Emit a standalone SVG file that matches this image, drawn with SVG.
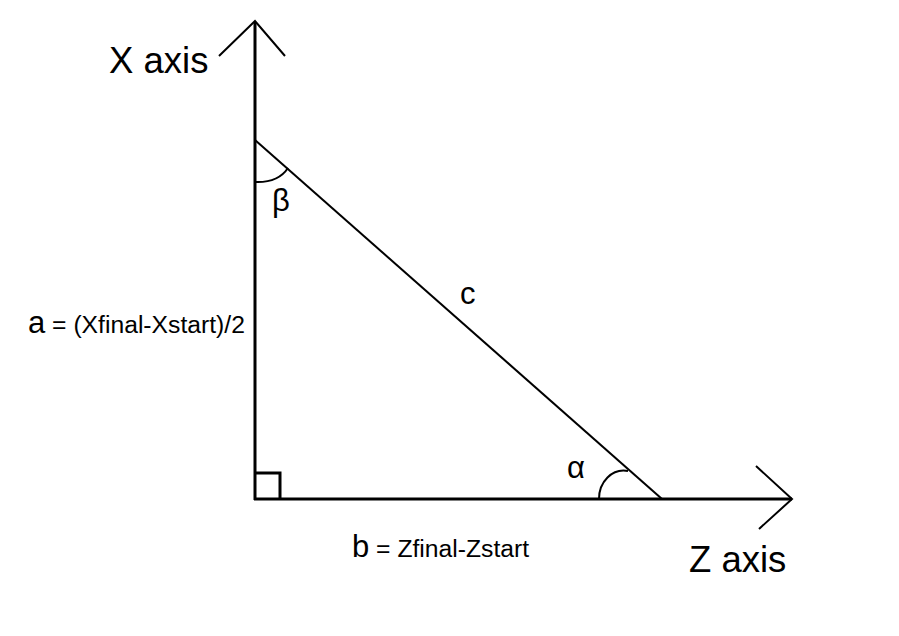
<svg xmlns="http://www.w3.org/2000/svg" width="899" height="636" viewBox="0 0 899 636">
<style>
.ln{stroke:#000;fill:none;stroke-linecap:butt}
.ax{stroke-width:3}
.th{stroke-width:2}
text{font-family:"Liberation Sans",Arial,sans-serif;fill:#000}
.big{font-size:36.5px}
.lab{font-size:31px}
.sm{font-size:24.7px}
</style>
<rect width="899" height="636" fill="#fff"/>
<g id="connectors">
<line class="ln ax" x1="255" y1="22" x2="255" y2="500"/>
<line class="ln ax" x1="254" y1="499" x2="792" y2="499"/>
<polyline class="ln th" points="219,56 255,21 285,56"/>
<polyline class="ln th" points="756,466 792,499 759,529"/>
<line class="ln th" x1="255" y1="140" x2="662" y2="499"/>
<path class="ln th" d="M255,182 Q278,183 288,168"/>
<path class="ln th" d="M599,499 C599,482 612,468 628,471"/>
<polyline class="ln ax" points="255,473 280,473 280,499"/>
</g>
<g id="x-axis-label"><text class="big" x="109" y="73">X axis</text></g>
<g id="z-axis-label"><text class="big" x="689" y="572">Z axis</text></g>
<g id="beta"><text class="lab" x="272" y="211">β</text></g>
<g id="alpha"><text class="lab" x="567" y="478">α</text></g>
<g id="c-label"><text class="lab" x="460" y="304">c</text></g>
<g id="a-label"><text x="28" y="333"><tspan class="lab">a</tspan><tspan class="sm"> = (Xfinal-Xstart)/2</tspan></text></g>
<g id="b-label"><text x="352" y="557"><tspan class="lab">b</tspan><tspan class="sm"> = Zfinal-Zstart</tspan></text></g>
</svg>
